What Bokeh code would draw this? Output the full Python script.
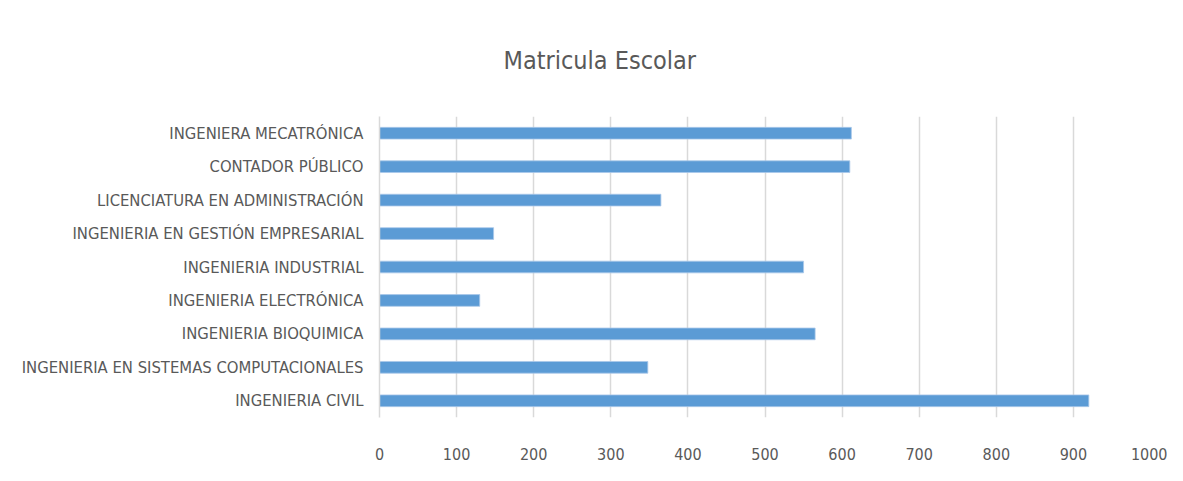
from bokeh.plotting import figure
from bokeh.models import Range1d, FactorRange, ColumnDataSource, FixedTicker
from bokeh.embed import file_html
from bokeh.resources import INLINE

categories = [
    "INGENIERIA CIVIL",
    "INGENIERIA EN SISTEMAS COMPUTACIONALES",
    "INGENIERIA BIOQUIMICA",
    "INGENIERIA ELECTRÓNICA",
    "INGENIERIA INDUSTRIAL",
    "INGENIERIA EN GESTIÓN EMPRESARIAL",
    "LICENCIATURA EN ADMINISTRACIÓN",
    "CONTADOR PÚBLICO",
    "INGENIERA MECATRÓNICA",
]
matricula = [920, 348, 565, 130, 550, 148, 365, 610, 612]
x_ticks = [0, 100, 200, 300, 400, 500, 600, 700, 800, 900, 1000]
title_text = "Matricula Escolar"

FONT = "DejaVu Sans Condensed"
TXT = "#595959"
GRID = "#d9d9d9"
BAR = "#5b9bd5"

src = ColumnDataSource(dict(cat=categories, val=matricula))

p = figure(
    width=1167, height=465,
    y_range=FactorRange(factors=categories),
    x_range=Range1d(0, 1000),
    output_backend="svg", toolbar_location=None,
    min_border_left=379, min_border_right=17,
    min_border_top=116, min_border_bottom=48,
)

p.hbar(y="cat", right="val", left=0, height=0.35, source=src,
       fill_color=BAR, line_color="#a9c8ea", line_width=0.8)

p.title.text = title_text
p.title.text_font = FONT
p.title.text_font_size = "25px"
p.title.text_font_style = "normal"
p.title.text_color = TXT
p.title.align = "left"
p.title.offset = 124
p.title.standoff = 84

p.outline_line_color = None
p.background_fill_color = "white"
p.border_fill_color = "white"

p.xgrid.ticker = FixedTicker(ticks=x_ticks)
p.xgrid.grid_line_color = GRID
p.xgrid.grid_line_width = 1.5
p.ygrid.grid_line_color = None

p.xaxis.ticker = FixedTicker(ticks=x_ticks)
p.xaxis.axis_line_color = None
p.xaxis.major_tick_line_color = None
p.xaxis.minor_tick_line_color = None
p.xaxis.major_label_text_font = FONT
p.xaxis.major_label_text_font_size = "16px"
p.xaxis.major_label_text_color = TXT
p.xaxis.major_label_standoff = 24

p.yaxis.axis_line_color = GRID
p.yaxis.axis_line_width = 1.5
p.yaxis.major_tick_line_color = None
p.yaxis.minor_tick_line_color = None
p.yaxis.major_label_text_font = FONT
p.yaxis.major_label_text_font_size = "16.5px"
p.yaxis.major_label_text_color = TXT
p.yaxis.major_label_standoff = 10

open("out.html", "w").write(file_html(p, INLINE))
